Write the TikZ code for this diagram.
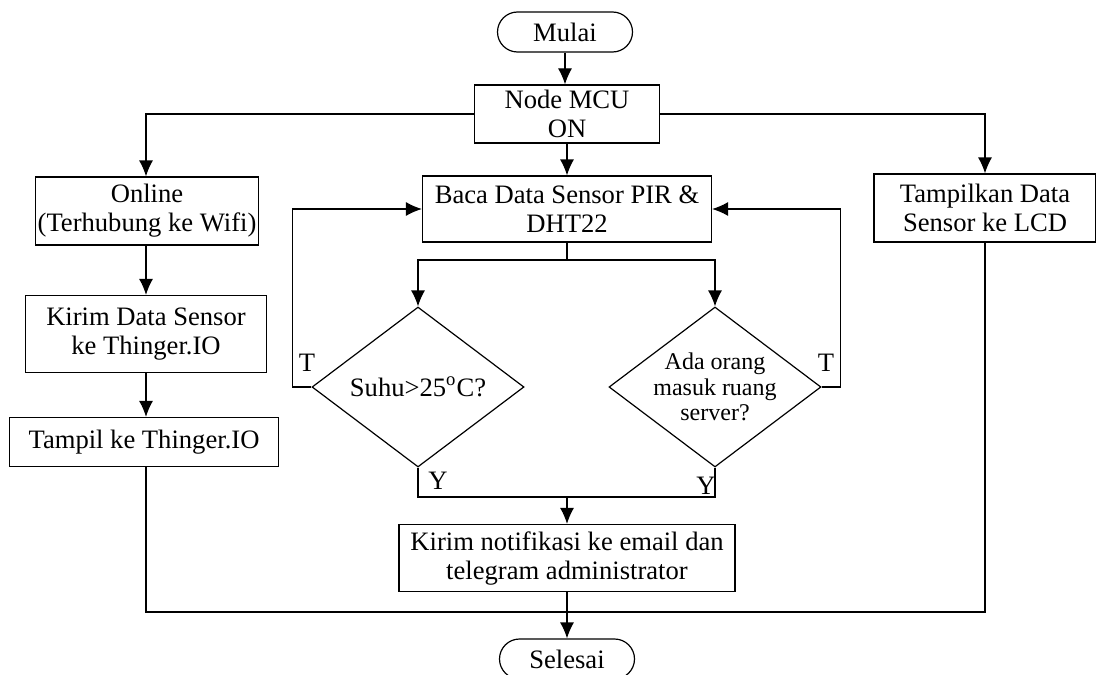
\documentclass[tikz,border=0pt]{standalone}
\usepackage{fontspec}
\setmainfont{Liberation Serif}
\usepackage{tikz}
\usetikzlibrary{calc,arrows.meta,shapes.geometric}

\tikzset{
  box/.style={draw,rectangle,align=center,inner sep=1pt},
  term/.style={draw,rectangle,rounded corners=10pt,minimum width=67.5pt,minimum height=20pt,inner sep=1pt},
  decide/.style={draw,diamond,aspect=1.3,inner sep=-14pt,minimum width=106pt,minimum height=80pt,align=center},
  flow/.style={-{Latex[length=8pt,width=7pt]}},
  lbl/.style={inner sep=0pt}
}

\begin{document}
\begin{tikzpicture}[x=0.5pt,y=-0.5pt,line width=0.6pt,font=\fontsize{13.3}{14.5}\selectfont]
                      \useasboundingbox (0,0) rectangle (1096,674);
                      \node[term](mulai)at(565,32){Mulai};
                      \node[box,minimum width=92.5pt,minimum height=29pt](mcu)at(567,114){Node MCU\\ON};
                      \node[box,minimum width=144.5pt,minimum height=33pt](baca)at(567,209){Baca Data Sensor PIR \&\\DHT22};
                      \node[box,minimum width=111pt,minimum height=34pt](online)at(147,211){Online\\(Terhubung ke Wifi)};
                      \node[box,minimum width=120.5pt,minimum height=38.5pt](kirim)at(146,334){Kirim Data Sensor\\ke Thinger.IO};
                      \node[box,minimum width=134.5pt,minimum height=24.5pt](tampil)at(144,442){Tampil ke Thinger.IO};
                      \node[box,minimum width=111pt,minimum height=34pt](lcd)at(985,208){Tampilkan Data\\Sensor ke LCD};
                      \node[decide](suhu)at(418,387){Suhu>25\textsuperscript{o}C?};
                      \node[decide,font=\fontsize{12}{12.8}\selectfont](ada)at(715,387){Ada orang\\masuk ruang\\server?};
                      \node[box,minimum width=168pt,minimum height=33.5pt](notif)at(567,558){Kirim notifikasi ke email dan\\telegram administrator};
                      \node[term](selesai)at(567,659){Selesai};
                      \coordinate(split)at(567,260);
                      \coordinate(join)at(567,497);
                      \coordinate(merge)at(567,612);
                      \draw[flow](mulai.south)--(mulai.south|-mcu.north);
                      \draw[flow](mcu)--(baca);
                      \draw[flow](mcu.west)-|(kirim.north|-online.north);
                      \draw[flow](mcu.east)-|(lcd.north);
                      \draw[flow](kirim.north|-online.south)--(kirim.north);
                      \draw[flow](kirim.south)--(kirim.south|-tampil.north);
                      \draw(baca.south)--(split);
                      \draw[flow](split)-|(suhu.north);
                      \draw[flow](split)-|(ada.north);
                      \draw[flow](suhu.west)--++(-19,0)|-(baca.west);
                      \draw[flow](ada.east)--++(19,0)|-(baca.east);
                      \node[lbl](t1)at(307,363){T};
                      \node[lbl](t2)at(826,363){T};
                      \draw(suhu.south)|-(join);
                      \draw(ada.south)|-(join);
                      \node[lbl](y1)at(438,481){Y};
                      \node[lbl](y2)at(706,486){Y};
                      \draw[flow](join)--(notif);
                      \draw(kirim.south|-tampil.south)|-(merge)-|(lcd.south);
                      \draw[flow](notif)--(selesai);
                  \end{tikzpicture}
\end{document}
